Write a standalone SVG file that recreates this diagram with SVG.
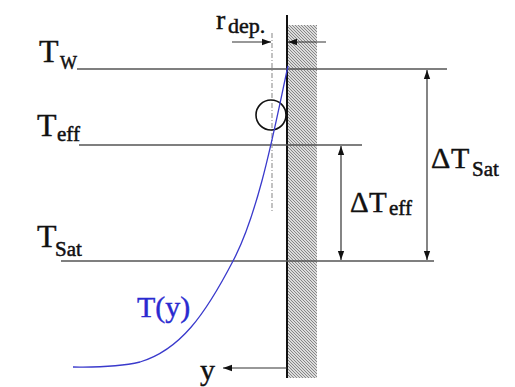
<svg xmlns="http://www.w3.org/2000/svg" width="515" height="387" viewBox="0 0 515 387">
<defs>
<pattern id="hatch" width="3" height="3" patternUnits="userSpaceOnUse">
<rect width="3" height="3" fill="#dcdcdc"/>
<path d="M-1,-1 L4,4 M-1,2 L1,4 M2,-1 L4,1" stroke="#707070" stroke-width="0.8"/>
</pattern>
<marker id="ah" viewBox="0 0 10 10" refX="10" refY="5" markerWidth="9" markerHeight="9" markerUnits="userSpaceOnUse" orient="auto-start-reverse">
<path d="M0,1.5 L10,5 L0,8.5 z" fill="#111"/>
</marker>
<style>
.lvl{stroke:#555;stroke-width:1.5;fill:none}
.dim{stroke:#333;stroke-width:1.2;fill:none}
.t, .t tspan{font-family:"Liberation Serif","Times New Roman",serif}
.t{fill:#111;stroke:#111;stroke-width:0.4}
.big{font-size:32px}
.mid{font-size:30px}
.sub{font-size:21px;stroke-width:0.5}
</style>
</defs>
<rect width="515" height="387" fill="#fff"/>

<g id="wall">
<rect x="288" y="25" width="29" height="353" fill="url(#hatch)"/>
<line x1="287" y1="15" x2="287" y2="378" stroke="#111" stroke-width="2"/>
</g>

<g id="levels">
<line class="lvl" x1="77" y1="69" x2="447" y2="69"/>
<line class="lvl" x1="79" y1="145" x2="362" y2="145"/>
<line class="lvl" x1="61" y1="261" x2="434" y2="261"/>
</g>

<g id="centerline">
<line x1="272" y1="33" x2="272" y2="212" stroke="#999" stroke-width="1.2" stroke-dasharray="5,2,1,2"/>
</g>

<g id="bubble">
<circle cx="271" cy="115" r="15" fill="none" stroke="#111" stroke-width="1.6"/>
</g>

<g id="curve">
<path d="M288,66 C276,120 260,210 233,261 C205,315 180,350 140,362 C115,368 90,367 73,367" fill="none" stroke="#3a3acc" stroke-width="1.3"/>
</g>

<g id="connectors">
<line class="dim" x1="232" y1="42" x2="271" y2="42" marker-end="url(#ah)"/>
<line class="dim" x1="326" y1="42" x2="288" y2="42" marker-end="url(#ah)"/>
<line class="dim" x1="427" y1="70" x2="427" y2="260" marker-start="url(#ah)" marker-end="url(#ah)"/>
<line class="dim" x1="341" y1="146" x2="341" y2="260" marker-start="url(#ah)" marker-end="url(#ah)"/>
<line class="dim" x1="287" y1="368" x2="223" y2="368" marker-end="url(#ah)"/>
</g>

<g id="labels">
<text class="t big" x="39" y="62">T<tspan class="sub" x="60" y="69" style="font-size:18px">W</tspan></text>
<text class="t big" x="37" y="136">T<tspan class="sub" x="57" y="141">eff</tspan></text>
<text class="t big" x="37" y="247">T<tspan class="sub" x="55" y="256">Sat</tspan></text>
<text class="t" x="216" y="29" style="font-size:28px">r<tspan class="sub" x="228" y="33" style="font-size:22px">dep.</tspan></text>
<text class="t mid" x="431" y="168">Δ<tspan x="451">T</tspan><tspan class="sub" x="472" y="176">Sat</tspan></text>
<text class="t" x="350" y="212" style="font-size:29px">Δ<tspan x="369">T</tspan><tspan class="sub" x="389" y="215">eff</tspan></text>
<text class="t" x="137" y="317" style="font-size:30px;fill:#2a2ad0;stroke:#2a2ad0">T(y)</text>
<text class="t" x="200" y="380" style="font-size:30px">y</text>
</g>
</svg>
